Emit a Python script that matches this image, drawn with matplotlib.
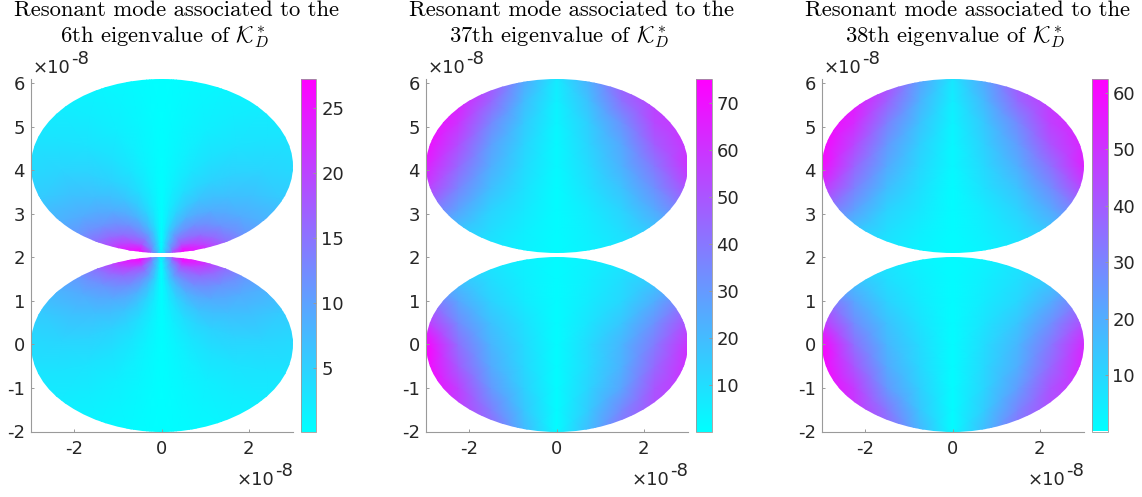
#!/usr/bin/env python3
"""Resonant modes of two nearby discs for three eigenvalues of K_D^*."""

import numpy as np
import matplotlib

matplotlib.use("Agg")
import matplotlib.pyplot as plt
from matplotlib.patches import Ellipse

W, H = 1142, 497
GREY = "#9a9a9a"
TEXT = "#262626"

ORDINALS = ["6th", "37th", "38th"]
CLIMS = [(0.15, 27.2), (0.1, 75.0), (0.1, 62.4)]
CBAR_TICKS = [[5, 10, 15, 20, 25],
              [10, 20, 30, 40, 50, 60, 70],
              [10, 20, 30, 40, 50, 60]]
X_TICKS = [-2, 0, 2]
Y_TICKS = [-2, -1, 0, 1, 2, 3, 4, 5, 6]
AX_LEFT = [30.5, 425.5, 821.5]

LOWER_CENTER = 0.0
UPPER_CENTER = 4.1

# 6th mode: read on a fan around the touching point of the discs
FAN_R = [0.0, 0.1, 0.25, 0.5, 1.0, 1.5, 2.0, 3.0, 4.2]
FAN_PHI = [0, 4, 10, 20, 35, 50, 65, 80, 90]
FAN_VALUES = [
    [0.3, 0.4, 0.6, 0.8, 1.0, 1.2, 1.3, 1.3, 1.3],
    [0.3, 0.6, 1.4, 2.6, 3.8, 4.8, 5.5, 6.5, 6.5],
    [0.3, 0.9, 2.2, 4.5, 7.5, 10.0, 12.5, 16.0, 18.0],
    [0.3, 1.1, 2.8, 6.0, 10.5, 14.5, 18.5, 25.0, 27.2],
    [0.3, 1.0, 2.4, 4.8, 8.5, 12.0, 15.5, 21.0, 24.0],
    [0.3, 0.8, 1.9, 3.7, 6.5, 9.0, 11.5, 15.5, 16.5],
    [0.3, 0.7, 1.5, 2.9, 5.0, 7.0, 9.0, 11.5, 12.0],
    [0.2, 0.5, 1.0, 1.9, 3.2, 4.5, 5.8, 7.0, 7.5],
    [0.15, 0.3, 0.6, 1.1, 1.9, 2.7, 3.5, 4.5, 5.0],
]

# 37th and 38th modes: read on a grid in disc-relative coordinates
GRID_U = [-1, -0.75, -0.5, -0.25, 0, 0.25, 0.5, 0.75, 1]
GRID_V = [-1, -0.75, -0.5, -0.25, 0, 0.25, 0.5, 0.75, 1]

M37_LOWER = [
    [70, 60, 46, 21, 1, 20, 42, 54, 58],
    [72, 58, 38, 17, 1, 16, 35, 52, 58],
    [75, 56, 30, 14, 1, 13, 27, 50, 60],
    [75, 48, 25, 12, 1, 11, 23, 44, 62],
    [75, 42, 22, 11, 1, 11, 22, 39, 60],
    [60, 34, 18, 9, 1, 8, 17, 32, 52],
    [45, 26, 13, 6, 1, 6, 12, 24, 40],
    [30, 18, 10, 5, 1, 5, 10, 16, 28],
    [20, 12, 7, 4, 1, 4, 7, 11, 18],
]
M37_UPPER = [
    [18, 11, 7, 4, 1, 4, 7, 11, 18],
    [28, 17, 10, 5, 1, 5, 10, 17, 28],
    [42, 27, 13, 7, 1, 6, 13, 25, 40],
    [58, 36, 19, 9, 1, 9, 18, 33, 52],
    [66, 44, 24, 11, 2, 11, 23, 40, 60],
    [72, 52, 28, 13, 2, 13, 26, 48, 60],
    [75, 60, 35, 16, 3, 15, 32, 54, 60],
    [75, 66, 45, 20, 4, 19, 42, 56, 60],
    [75, 68, 52, 26, 6, 24, 48, 58, 60],
]
M38_LOWER = [
    [58, 52, 38, 18, 1, 17, 36, 46, 50],
    [60, 50, 33, 14, 1, 13, 30, 44, 50],
    [62, 48, 25, 12, 1, 11, 24, 42, 52],
    [62, 41, 21, 10, 1, 10, 20, 37, 54],
    [62, 35, 18, 9, 1, 9, 18, 33, 52],
    [50, 28, 15, 7, 1, 7, 14, 27, 44],
    [38, 22, 11, 5, 1, 5, 10, 20, 34],
    [25, 15, 8, 4, 1, 4, 8, 13, 24],
    [16, 10, 6, 3, 1, 3, 6, 9, 15],
]
M38_UPPER = [
    [15, 9, 6, 3, 1, 3, 6, 9, 15],
    [24, 14, 8, 4, 1, 4, 8, 14, 24],
    [36, 23, 11, 6, 1, 5, 11, 21, 34],
    [50, 31, 16, 8, 1, 8, 15, 28, 46],
    [60, 38, 21, 10, 2, 10, 20, 35, 54],
    [62, 45, 25, 12, 2, 12, 24, 42, 54],
    [62, 52, 31, 15, 3, 14, 29, 47, 54],
    [62, 57, 39, 19, 4, 18, 37, 49, 54],
    [62, 58, 45, 23, 6, 22, 42, 50, 54],
]


def px(x, y):
    return x / W, 1 - y / H


def clip_disc(ax, mesh, cy):
    disc = Ellipse((0, cy), 6.0, 4.0, transform=ax.transData, fc="none", ec="none")
    ax.add_patch(disc)
    mesh.set_clip_path(disc)


def draw_fan(ax, cy, sign, clim):
    # sign=+1 : disc lies below the touching point, -1 : above it
    phi = np.radians(np.r_[-np.array(FAN_PHI[:0:-1]), FAN_PHI])
    r = np.array(FAN_R)
    half = np.array(FAN_VALUES)
    vals = np.hstack([half[:, :0:-1], half])
    X = np.outer(r, np.sin(phi))
    Y = cy - sign * np.outer(r, np.cos(phi))
    return ax.pcolormesh(X, Y, vals, shading="gouraud", cmap="cool",
                         vmin=clim[0], vmax=clim[1])


def draw_grid(ax, cy, table, clim):
    X, Y = np.meshgrid(3.0 * np.array(GRID_U), cy + 2.0 * np.array(GRID_V))
    return ax.pcolormesh(X, Y, np.array(table), shading="gouraud", cmap="cool",
                         vmin=clim[0], vmax=clim[1])


def main():
    plt.rcParams.update({"font.family": "DejaVu Sans", "mathtext.fontset": "cm",
                         "axes.unicode_minus": False})
    fig = plt.figure(figsize=(W / 100, H / 100), dpi=100)

    panels = [None, (M37_LOWER, M37_UPPER), (M38_LOWER, M38_UPPER)]
    for i, left in enumerate(AX_LEFT):
        clim = CLIMS[i]
        x0, y0 = px(left, 431.5)
        ax = fig.add_axes([x0, y0, 262.0 / W, 352.5 / H])
        if panels[i] is None:
            m_low = draw_fan(ax, 2.0, 1, clim)
            m_up = draw_fan(ax, 2.1, -1, clim)
        else:
            m_low = draw_grid(ax, LOWER_CENTER, panels[i][0], clim)
            m_up = draw_grid(ax, UPPER_CENTER, panels[i][1], clim)
        clip_disc(ax, m_low, LOWER_CENTER)
        clip_disc(ax, m_up, UPPER_CENTER)

        ax.set_xlim(-3, 3)
        ax.set_ylim(-2, 6.1)
        ax.set_xticks(X_TICKS, [str(t) for t in X_TICKS])
        ax.set_yticks(Y_TICKS, [str(t) for t in Y_TICKS])
        ax.tick_params(direction="in", length=2.5, width=0.7, color=GREY,
                       labelsize=13, labelcolor=TEXT)
        ax.tick_params(axis="x", pad=6)
        ax.tick_params(axis="y", pad=4)
        ax.spines[["top", "right"]].set_visible(False)
        ax.spines[["left", "bottom"]].set_color(GREY)
        ax.spines[["left", "bottom"]].set_linewidth(0.8)

        cax = fig.add_axes([(left + 270.5) / W, y0, 15.5 / W, 352.5 / H])
        cb = fig.colorbar(m_low, cax=cax)
        cb.set_ticks(CBAR_TICKS[i], labels=[str(t) for t in CBAR_TICKS[i]])
        cb.ax.tick_params(direction="in", length=2.5, width=0.7, color=GREY,
                          labelsize=13, labelcolor=TEXT, pad=3.5)
        cb.outline.set_edgecolor(GREY)
        cb.outline.set_linewidth(0.6)

        fig.text(*px(left + 146, 16), "Resonant mode associated to the",
                 family="cmr10", fontsize=16.3, color="black", ha="center", va="baseline")
        fig.text(*px(left + 134, 42), ORDINALS[i] + r" eigenvalue of $\mathcal{K}_D^*$",
                 family="cmr10", fontsize=16.3, color="black", ha="center", va="baseline")

        # MATLAB style exponent labels
        fig.text(*px(left + 2, 73), "\u00d710", fontsize=13, color=TEXT, va="baseline")
        fig.text(*px(left + 41, 64), "-8", fontsize=13, color=TEXT, va="baseline")
        fig.text(*px(left + 206, 485), "\u00d710", fontsize=13, color=TEXT, va="baseline")
        fig.text(*px(left + 245, 476), "-8", fontsize=13, color=TEXT, va="baseline")

    fig.savefig("out.png", dpi=100)


if __name__ == "__main__":
    main()
